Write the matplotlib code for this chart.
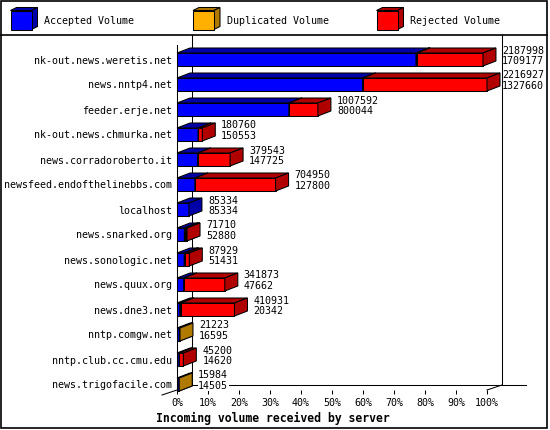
import numpy as np
import matplotlib
matplotlib.use("Agg")
import matplotlib.pyplot as plt
from matplotlib.patches import Polygon, Rectangle
from matplotlib.lines import Line2D

# ---------------- data ----------------
servers = ["nk-out.news.weretis.net", "news.nntp4.net", "feeder.erje.net",
           "nk-out.news.chmurka.net", "news.corradoroberto.it",
           "newsfeed.endofthelinebbs.com", "localhost", "news.snarked.org",
           "news.sonologic.net", "news.quux.org", "news.dne3.net",
           "nntp.comgw.net", "nntp.club.cc.cmu.edu", "news.trigofacile.com"]
total_volume = [2187998, 2216927, 1007592, 180760, 379543, 704950, 85334,
                71710, 87929, 341873, 410931, 21223, 45200, 15984]
accepted_volume = [1709177, 1327660, 800044, 150553, 147725, 127800, 85334,
                   52880, 51431, 47662, 20342, 16595, 14620, 14505]
duplicated_volume = [8000, 0, 0, 0, 0, 0, 0, 8000, 9000, 0, 6000, 4628, 0, 1479]
rejected_volume = [470821, 889267, 207548, 30207, 231818, 577150, 0,
                   10830, 27498, 294211, 384589, 0, 30580, 0]
series_names = ["Accepted Volume", "Duplicated Volume", "Rejected Volume"]
front_colors = ["#0000ff", "#ffb000", "#ff0000"]
side_colors = ["#0000a8", "#b07a00", "#b00000"]
xticks = [0, 10, 20, 30, 40, 50, 60, 70, 80, 90, 100]
title = "Incoming volume received by server"

MONO = "DejaVu Sans Mono"
FS = 7.2
LW = 0.75

W, H = 550, 430
fig = plt.figure(figsize=(W / 100, H / 100), dpi=100)

# decoration layer in pixel coordinates (border, legend, title)
deco = fig.add_axes([0, 0, 1, 1], zorder=0)
deco.set_xlim(0, W)
deco.set_ylim(H, 0)
deco.axis("off")
deco.add_patch(Rectangle((1, 1), 546, 427, fill=False, edgecolor="black", lw=1.2))
deco.add_line(Line2D([1, 547], [35, 35], color="black", lw=1.2))

def box3d(ax, x0, x1, y0, y1, dx, dy, fc, sc, z):
    # y axis inverted: y0 top of front face, y1 bottom
    ax.add_patch(Polygon([(x0, y0), (x1, y0), (x1 + dx, y0 - dy), (x0 + dx, y0 - dy)],
                         closed=True, facecolor=sc, edgecolor="black", lw=LW,
                         zorder=z, clip_on=False, joinstyle="miter"))
    ax.add_patch(Polygon([(x1, y0), (x1 + dx, y0 - dy), (x1 + dx, y1 - dy), (x1, y1)],
                         closed=True, facecolor=sc, edgecolor="black", lw=LW,
                         zorder=z, clip_on=False, joinstyle="miter"))

# legend
leg_x = [10.5, 193, 376.5]
for i, name in enumerate(series_names):
    x0 = leg_x[i]
    deco.add_patch(Rectangle((x0, 10.5), 21, 19, facecolor=front_colors[i],
                             edgecolor="black", lw=LW, zorder=3))
    box3d(deco, x0, x0 + 21, 10.5, 29.5, 6, 3, front_colors[i], side_colors[i], 2)
    deco.text(x0 + 34, 20.5, name, fontsize=FS, family=MONO, ha="left", va="center")

deco.text(273, 418, title, fontsize=8.3, family=MONO, fontweight="bold",
          ha="center", va="center")

# ---------------- main chart ----------------
ax = fig.add_axes([177 / W, (H - 390) / H, 310 / W, (390 - 45) / H], zorder=1)
ax.patch.set_alpha(0)
rows = np.arange(len(servers))
ax.set_xlim(0, 100)
ax.set_ylim(13.22, -0.58)

DX, DY = 13 / 3.1, 0.2       # bar depth
WX, WY = 15 / 3.1, 0.2       # back wall depth
BH = 0.52

maxv = max(total_volume)
series = [np.array(accepted_volume), np.array(duplicated_volume), np.array(rejected_volume)]
pcts = [s / maxv * 100 for s in series]
left = np.zeros(len(servers))
for k, p in enumerate(pcts):
    nz = p > 0
    ax.barh(rows[nz], p[nz], left=left[nz], height=BH, color=front_colors[k],
            edgecolor="black", linewidth=LW, zorder=3 + k, clip_on=False)
    for r in rows[nz]:
        x0 = left[r]
        x1 = left[r] + p[r]
        box3d(ax, x0, x1, r - BH / 2, r + BH / 2, DX, DY,
              front_colors[k], side_colors[k], 3 + k)
    left = left + p

# back wall / floor lines
top_row = -0.98
floor_back = 13.22 - WY
ax.add_line(Line2D([WX, WX], [top_row, floor_back], color="black", lw=LW, zorder=1, clip_on=False))
ax.add_line(Line2D([100 + WX, 100 + WX], [top_row, floor_back], color="black", lw=LW, zorder=8, clip_on=False))
ax.add_line(Line2D([WX, 112.6], [floor_back, floor_back], color="black", lw=LW, zorder=1, clip_on=False))
ax.add_line(Line2D([100 + WX, 100], [floor_back, 13.22], color="black", lw=LW, zorder=1, clip_on=False))
ax.add_line(Line2D([WX, -WX], [floor_back, 13.22 + WY], color="black", lw=LW, zorder=1, clip_on=False))

# value labels
tot_pct = np.array(total_volume) / maxv * 100
for r in rows:
    tx = min(tot_pct[r] + 19 / 3.1, 104.8)
    ax.text(tx, r - 0.36, str(total_volume[r]), fontsize=FS, family=MONO,
            ha="left", va="center", zorder=7, clip_on=False,
            bbox=dict(facecolor="white", edgecolor="none", pad=0.3))
    ax.text(tx, r + 0.06, str(accepted_volume[r]), fontsize=FS, family=MONO,
            ha="left", va="center", zorder=7, clip_on=False,
            bbox=dict(facecolor="white", edgecolor="none", pad=0.3))

# axes styling
for s in ["top", "right", "bottom"]:
    ax.spines[s].set_visible(False)
ax.spines["left"].set_linewidth(LW)
ax.spines["left"].set_zorder(2)
ax.set_yticks(rows)
ax.set_yticklabels(servers, fontsize=FS, family=MONO)
ax.tick_params(axis="y", length=0, pad=3.6)
ax.set_xticks(xticks)
ax.set_xticklabels([f"{t}%" for t in xticks], fontsize=FS, family=MONO)
ax.tick_params(axis="x", length=3, width=LW, pad=3, direction="out")

fig.savefig("out.png", dpi=100)
